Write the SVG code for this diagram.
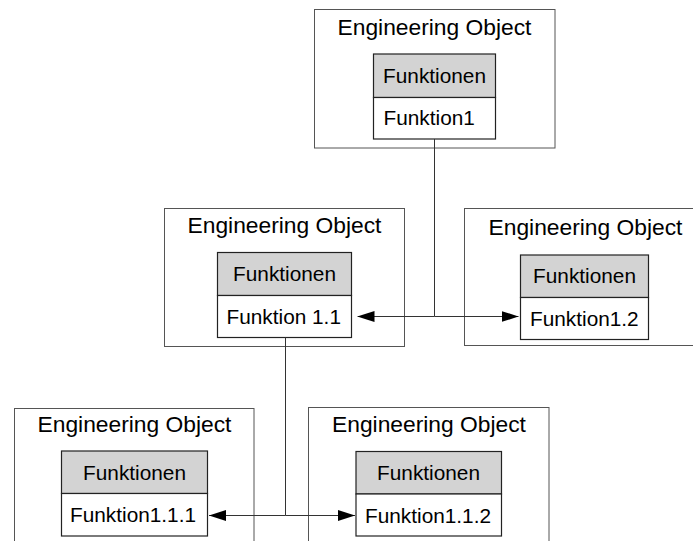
<svg xmlns="http://www.w3.org/2000/svg" width="693" height="541" viewBox="0 0 693 541">
<style>
.outer{fill:#fff;stroke:#555;stroke-width:1}
.hdr{fill:#d3d3d3;stroke:#222;stroke-width:1.2}
.body{fill:#fff;stroke:#222;stroke-width:1.2}
.title{font-family:"Liberation Sans",Arial,sans-serif;font-size:22.8px;fill:#000;text-anchor:middle}
.th{font-family:"Liberation Sans",Arial,sans-serif;font-size:20.8px;fill:#000;text-anchor:middle}
.td{font-family:"Liberation Sans",Arial,sans-serif;font-size:20.8px;fill:#000}
.conn{fill:none;stroke:#333;stroke-width:1}
</style>
<defs>
<marker id="arr" markerUnits="userSpaceOnUse" viewBox="0 0 17 11" markerWidth="17" markerHeight="11" refX="17" refY="5.5" orient="auto">
<path d="M0,0 L17,5.5 L0,11 z" fill="#000"/>
</marker>
</defs>
<rect width="693" height="541" fill="#fff"/>
<g id="eo-top">
<rect class="outer" x="314.5" y="9.5" width="240.5" height="138.5"/>
<text class="title" x="434.5" y="35">Engineering Object</text>
<rect class="hdr" x="373.5" y="54" width="122" height="43.5"/>
<rect class="body" x="373.5" y="97.5" width="122" height="41.5"/>
<text class="th" x="434.5" y="82.5">Funktionen</text>
<text class="td" x="383.5" y="125">Funktion1</text>
</g>
<g id="eo-mid-left">
<rect class="outer" x="164.5" y="208.5" width="240" height="138"/>
<text class="title" x="284.5" y="233">Engineering Object</text>
<rect class="hdr" x="217.5" y="252.5" width="134" height="43"/>
<rect class="body" x="217.5" y="295.5" width="134" height="42"/>
<text class="th" x="284.5" y="281">Funktionen</text>
<text class="td" x="226.5" y="324">Funktion 1.1</text>
</g>
<g id="eo-mid-right">
<rect class="outer" x="464.5" y="208.5" width="243" height="137"/>
<text class="title" x="585.5" y="234.5">Engineering Object</text>
<rect class="hdr" x="520.5" y="255" width="128" height="42.5"/>
<rect class="body" x="520.5" y="297.5" width="128" height="42"/>
<text class="th" x="584.5" y="283">Funktionen</text>
<text class="td" x="530" y="326">Funktion1.2</text>
</g>
<g id="eo-bot-left">
<rect class="outer" x="14.5" y="408.5" width="239.5" height="150"/>
<text class="title" x="134.5" y="432">Engineering Object</text>
<rect class="hdr" x="61.5" y="451" width="146" height="42.5"/>
<rect class="body" x="61.5" y="493.5" width="146" height="42.5"/>
<text class="th" x="134.5" y="479.5">Funktionen</text>
<text class="td" x="70" y="522">Funktion1.1.1</text>
</g>
<g id="eo-bot-right">
<rect class="outer" x="308.5" y="407.5" width="240.5" height="150"/>
<text class="title" x="429" y="431.5">Engineering Object</text>
<rect class="hdr" x="356" y="451.5" width="145.5" height="42.5"/>
<rect class="body" x="356" y="494" width="145.5" height="42"/>
<text class="th" x="428.5" y="480">Funktionen</text>
<text class="td" x="365" y="522.5">Funktion1.1.2</text>
</g>
<g id="connectors">
<path class="conn" d="M434.5,139 V316.5 H357.5" marker-end="url(#arr)"/>
<path class="conn" d="M434.5,316.5 H518.5" marker-end="url(#arr)"/>
<path class="conn" d="M285.5,337.5 V515.5 H209" marker-end="url(#arr)"/>
<path class="conn" d="M285.5,515.5 H355" marker-end="url(#arr)"/>
</g>
</svg>
